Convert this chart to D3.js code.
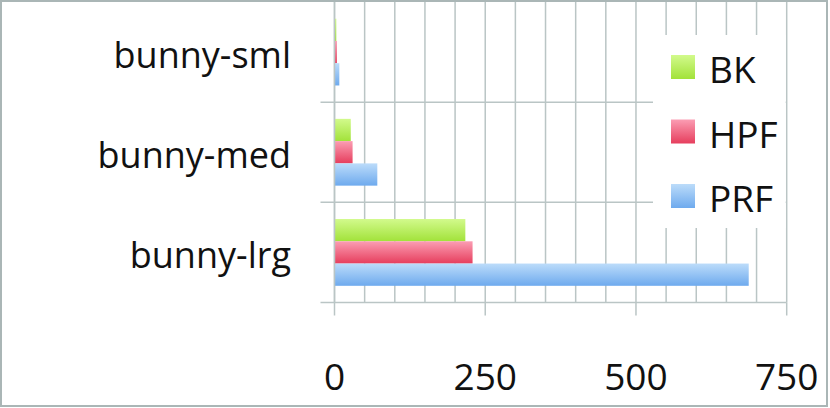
<!DOCTYPE html>
<html>
<head>
<meta charset="utf-8">
<script src="https://cdn.jsdelivr.net/npm/d3@7"></script>
<style>
  html, body { margin: 0; padding: 0; background: #fff; }
  svg { display: block; }
  text { font-family: "Open Sans", "Noto Sans", sans-serif; fill: #111; }
</style>
</head>
<body>
<div class="chart"></div>
<script>
// data
var categories = ['bunny-sml', 'bunny-med', 'bunny-lrg'];
var seriesNames = ['BK', 'HPF', 'PRF'];
var bkValues = [3, 27, 217];
var hpfValues = [4, 30, 229];
var prfValues = [8, 71, 687];
var xTicks = [0, 250, 500, 750];
var xMax = 750;

(function(){

  var width = 830,
    height = 408;

  var seriesValues = [bkValues, hpfValues, prfValues];
  var colors = {
    'BK': ['#d2fa8c', '#a2e23a'],
    'HPF': ['#fb9db3', '#e63e5d'],
    'PRF': ['#bcdcfa', '#6eaaee']
  };

  var svg = d3.select('.chart')
    .append('svg')
    .attr('width', width)
    .attr('height', height);

  var defs = svg.append('defs');
  seriesNames.forEach(function(name){
    var g = defs.append('linearGradient')
      .attr('id', 'grad-' + name)
      .attr('x1', 0).attr('y1', 0)
      .attr('x2', 0).attr('y2', 1);
    g.append('stop').attr('offset', '0%').attr('stop-color', colors[name][0]);
    g.append('stop').attr('offset', '100%').attr('stop-color', colors[name][1]);
  });

  var plot = {left: 334.5, right: 786.7, top: 2, bottom: 302.5};
  var gridColor = '#bac5c5';

  var x = d3.scaleLinear()
    .domain([0, xMax])
    .range([plot.left, plot.right]);

  var y = d3.scaleBand()
    .domain(categories)
    .range([plot.top, plot.bottom]);

  var ySeries = d3.scaleBand()
    .domain(seriesNames)
    .range([0, y.bandwidth()])
    .paddingInner(0)
    .paddingOuter(0.75);

  // vertical gridlines, every 50
  svg.append('g').selectAll('line')
    .data(x.ticks(15))
    .enter().append('line')
    .attr('x1', function(d){ return x(d); })
    .attr('x2', function(d){ return x(d); })
    .attr('y1', plot.top)
    .attr('y2', plot.bottom)
    .attr('stroke', gridColor)
    .attr('stroke-width', 1.5);

  // horizontal category separators
  var seps = categories.slice(1).map(function(c){ return y(c); });
  svg.append('g').selectAll('line')
    .data(seps)
    .enter().append('line')
    .attr('x1', plot.left - 14)
    .attr('x2', plot.right)
    .attr('y1', function(d){ return d; })
    .attr('y2', function(d){ return d; })
    .attr('stroke', gridColor)
    .attr('stroke-width', 1.5);

  // bars
  var groups = svg.append('g').selectAll('g')
    .data(categories)
    .enter().append('g')
    .attr('transform', function(d){ return 'translate(0,' + y(d) + ')'; });

  groups.selectAll('rect')
    .data(function(d, i){
      return seriesNames.map(function(s, j){ return {name: s, value: seriesValues[j][i]}; });
    })
    .enter().append('rect')
    .attr('x', x(0))
    .attr('y', function(d){ return ySeries(d.name); })
    .attr('width', function(d){ return x(d.value) - x(0); })
    .attr('height', ySeries.bandwidth())
    .attr('fill', function(d){ return 'url(#grad-' + d.name + ')'; });

  // axes
  svg.append('line')
    .attr('x1', plot.left - 14).attr('x2', plot.right)
    .attr('y1', plot.bottom).attr('y2', plot.bottom)
    .attr('stroke', gridColor).attr('stroke-width', 1.5);

  svg.append('line')
    .attr('x1', plot.left).attr('x2', plot.left)
    .attr('y1', plot.top).attr('y2', plot.bottom)
    .attr('stroke', gridColor).attr('stroke-width', 1.5);

  svg.append('g').selectAll('line')
    .data(xTicks)
    .enter().append('line')
    .attr('x1', function(d){ return x(d); })
    .attr('x2', function(d){ return x(d); })
    .attr('y1', plot.bottom)
    .attr('y2', plot.bottom + 13)
    .attr('stroke', gridColor)
    .attr('stroke-width', 1.5);

  svg.append('g').selectAll('text')
    .data(xTicks)
    .enter().append('text')
    .attr('x', function(d){ return x(d); })
    .attr('y', 389.5)
    .attr('text-anchor', 'middle')
    .style('font-size', '37px')
    .text(function(d){ return d; });

  svg.append('g').selectAll('text')
    .data(categories)
    .enter().append('text')
    .attr('x', 291)
    .attr('y', function(d){ return y(d) + y.bandwidth() / 2 + 16; })
    .attr('text-anchor', 'end')
    .style('font-size', '36px')
    .text(function(d){ return d; });

  // legend
  var legend = svg.append('g');
  legend.append('rect')
    .attr('x', 653).attr('y', 35)
    .attr('width', plot.right - 1 - 653).attr('height', 193)
    .attr('fill', '#fff');

  var items = legend.selectAll('g')
    .data(seriesNames)
    .enter().append('g')
    .attr('transform', function(d, i){ return 'translate(671,' + (67 + i * 64.5) + ')'; });

  items.append('rect')
    .attr('x', 0).attr('y', -12)
    .attr('width', 24).attr('height', 24)
    .attr('fill', function(d){ return 'url(#grad-' + d + ')'; });

  items.append('text')
    .attr('x', 38).attr('y', 16)
    .style('font-size', '37px')
    .text(function(d){ return d; });

  // outer border
  svg.append('rect')
    .attr('x', 1).attr('y', 1)
    .attr('width', 826).attr('height', 405)
    .attr('fill', 'none')
    .attr('stroke', '#aab6b6')
    .attr('stroke-width', 2);

}());
</script>
</body>
</html>
